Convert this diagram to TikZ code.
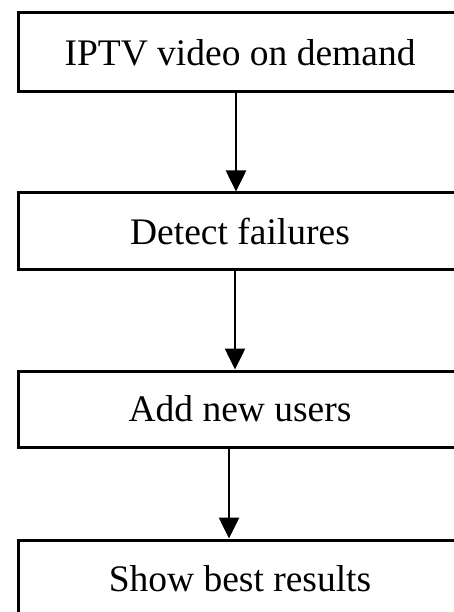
\documentclass[tikz,border=0pt]{standalone}
\usepackage{fontspec}
\setmainfont{Liberation Serif}
\usetikzlibrary{arrows.meta}
\tikzset{
  stage/.style={draw, line width=3pt, rectangle, inner sep=0pt,
    minimum width=444pt, font=\fontsize{37.5}{45}\selectfont},
  flow/.style={draw, line width=2.6pt, -{Triangle[length=21pt,width=20pt]}}
}
\begin{document}
\begin{tikzpicture}[x=1pt,y=-1pt]
  \useasboundingbox (0,0) rectangle (454,612);
  \fill[white] (0,0) rectangle (454,612);
  \clip (0,0) rectangle (454,612);
  \node[stage, minimum height=79pt] (b1) at (240,52.5) {IPTV video on demand};
  \node[stage, minimum height=76pt] (b2) at (240,231) {Detect failures};
  \node[stage, minimum height=76pt] (b3) at (240,409) {Add new users};
  \node[stage, minimum height=77pt] (b4) at (240,578.5) {Show best results};
  \coordinate (c1) at (236,0);
  \coordinate (c2) at (235,0);
  \coordinate (c3) at (229,0);
  \draw[flow] (b1.south -| c1) -- (b2.north -| c1);
  \draw[flow] (b2.south -| c2) -- (b3.north -| c2);
  \draw[flow] (b3.south -| c3) -- (b4.north -| c3);
\end{tikzpicture}
\end{document}
